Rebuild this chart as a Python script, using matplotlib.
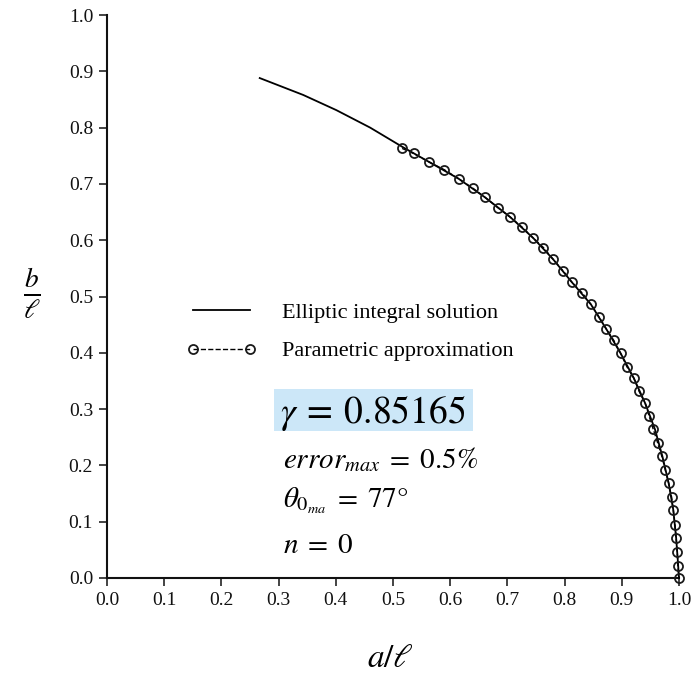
import matplotlib
matplotlib.use('Agg')
import matplotlib.pyplot as plt
from matplotlib.patches import Rectangle

# elliptic integral solution (solid curve)
elliptic_x = [0.267, 0.343, 0.401, 0.460, 0.516, 0.563, 0.615, 0.661, 0.705, 0.745, 0.780, 0.813,
              0.846, 0.873, 0.898, 0.921, 0.941, 0.958, 0.971, 0.982, 0.990, 0.995, 0.998, 1.000]
elliptic_y = [0.888, 0.858, 0.831, 0.800, 0.766, 0.739, 0.709, 0.676, 0.641, 0.604, 0.566, 0.525,
              0.486, 0.442, 0.399, 0.355, 0.310, 0.264, 0.216, 0.168, 0.121, 0.071, 0.030, 0.000]

# parametric approximation (circles)
param_x = [0.516, 0.536, 0.563, 0.590, 0.615, 0.640, 0.661, 0.683, 0.705, 0.726, 0.745, 0.763,
           0.780, 0.797, 0.813, 0.831, 0.846, 0.860, 0.873, 0.886, 0.898, 0.909, 0.921, 0.930,
           0.941, 0.948, 0.955, 0.963, 0.970, 0.976, 0.982, 0.987, 0.990, 0.993, 0.995, 0.997,
           0.998, 1.000]
param_y = [0.763, 0.754, 0.739, 0.725, 0.709, 0.692, 0.676, 0.658, 0.641, 0.623, 0.604, 0.587,
           0.566, 0.546, 0.525, 0.506, 0.486, 0.464, 0.442, 0.422, 0.399, 0.375, 0.355, 0.332,
           0.310, 0.287, 0.264, 0.239, 0.216, 0.192, 0.168, 0.144, 0.121, 0.094, 0.071, 0.047,
           0.022, 0.000]

ticks = [0.0, 0.1, 0.2, 0.3, 0.4, 0.5, 0.6, 0.7, 0.8, 0.9, 1.0]
tick_labels = ['0.0', '0.1', '0.2', '0.3', '0.4', '0.5', '0.6', '0.7', '0.8', '0.9', '1.0']

plt.rcParams['mathtext.fontset'] = 'stix'
serif = 'Liberation Serif'

fig = plt.figure(figsize=(6.92, 6.77), dpi=100)
ax = fig.add_axes([107 / 692, 99 / 677, 572 / 692, 563 / 677])

ax.plot(elliptic_x, elliptic_y, '-', color='black', lw=1.3,
        label='Elliptic integral solution', clip_on=False, zorder=3)
ax.plot(param_x, param_y, '--', color='black', lw=1.0, marker='o', ms=6.5,
        mfc='none', mec='#1a1a1a', mew=1.3, label='Parametric approximation',
        clip_on=False, zorder=4)

ax.set_xlim(0, 1.0)
ax.set_ylim(0, 1.0)
ax.set_xticks(ticks)
ax.set_yticks(ticks)
ax.set_xticklabels(tick_labels, fontfamily=serif, fontsize=14)
ax.set_yticklabels(tick_labels, fontfamily=serif, fontsize=14)
ax.tick_params(axis='both', direction='out', length=6, width=1.1, pad=4, colors='#111111')
for s in ['top', 'right']:
    ax.spines[s].set_visible(False)
for s in ['left', 'bottom']:
    ax.spines[s].set_linewidth(1.5)
    ax.spines[s].set_color('#111111')

leg = ax.legend(loc='center left', bbox_to_anchor=(0.138, 0.437), frameon=False,
                prop={'family': serif, 'size': 16}, numpoints=2, handlelength=3.2,
                handletextpad=1.13, labelspacing=0.8, borderpad=0, borderaxespad=0)

# highlighted gamma value
ax.add_patch(Rectangle((0.292, 0.261), 0.348, 0.0746, transform=ax.transAxes,
                       facecolor='#cce7f8', edgecolor='none', zorder=1))
ax.text(0.302, 0.275, r'$\gamma\:=\:0.85165$', transform=ax.transAxes, fontsize=27,
        va='baseline', ha='left', zorder=2)
ax.text(0.308, 0.195, r'$error_{max}\;=\;0.5\%$', transform=ax.transAxes, fontsize=21,
        va='baseline', ha='left')
ax.text(0.308, 0.126, r'$\theta_{0_{ma}}\;=\;77°$', transform=ax.transAxes, fontsize=21,
        va='baseline', ha='left')
ax.text(0.308, 0.044, r'$n\;=\;0$', transform=ax.transAxes, fontsize=21,
        va='baseline', ha='left')

# axis labels
ax.text(0.495, -0.158, r'$a/\ell$', transform=ax.transAxes, fontsize=24,
        va='baseline', ha='center')
ax.text(-0.131, 0.506, r'$\frac{b}{\ell}$', transform=ax.transAxes, fontsize=28,
        va='center', ha='center')

fig.savefig('out.png', dpi=100)
